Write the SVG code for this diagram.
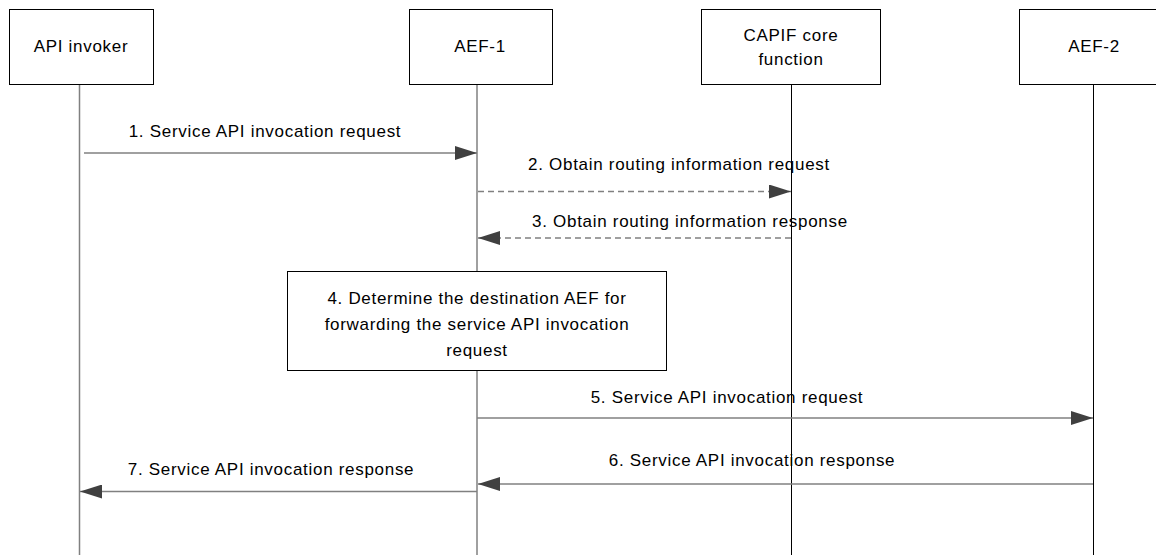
<svg xmlns="http://www.w3.org/2000/svg" width="1156" height="555" viewBox="0 0 1156 555">
<style>
text{font-family:"Liberation Sans",Arial,sans-serif;font-size:17px;letter-spacing:0.7px;fill:#000;text-anchor:middle}
.box{fill:#fff;stroke:#000;stroke-width:1}
.life1{stroke:#808080;stroke-width:1.5;fill:none}
.life2{stroke:#000;stroke-width:1;fill:none}
.msg{stroke:#808080;stroke-width:1.3;fill:none}
.dash{stroke-dasharray:6,4}
</style>
<defs>
<marker id="ah" viewBox="0 0 22 14" refX="22" refY="7" markerWidth="22" markerHeight="14" markerUnits="userSpaceOnUse" orient="auto">
<path d="M0,0 L22,7 L0,14 Z" fill="#404040"/>
</marker>
</defs>
<g id="lifelines">
<line class="life1" x1="79.5" y1="84" x2="79.5" y2="555"/>
<line class="life1" x1="477" y1="84" x2="477" y2="555"/>
<line class="life2" x1="791.5" y1="84" x2="791.5" y2="555"/>
<line class="life2" x1="1093.5" y1="84" x2="1093.5" y2="555"/>
</g>
<g id="node-api-invoker">
<rect class="box" x="9.5" y="9.5" width="144" height="75"/>
<text x="81" y="52">API invoker</text>
</g>
<g id="node-aef1">
<rect class="box" x="409.5" y="9.5" width="143" height="75"/>
<text x="480" y="52">AEF-1</text>
</g>
<g id="node-capif">
<rect class="box" x="701.5" y="9.5" width="179" height="75"/>
<text x="791" y="41">CAPIF core</text>
<text x="791" y="65">function</text>
</g>
<g id="node-aef2">
<rect class="box" x="1019.5" y="9.5" width="148" height="75"/>
<text x="1094" y="52">AEF-2</text>
</g>
<g id="node-step4">
<rect class="box" x="287.5" y="271.5" width="379" height="99"/>
<text x="477" y="304">4. Determine the destination AEF for</text>
<text x="477" y="330">forwarding the service API invocation</text>
<text x="477" y="356">request</text>
</g>
<g id="connectors">
<line class="msg" x1="84" y1="153" x2="477" y2="153" marker-end="url(#ah)"/>
<text x="265" y="137">1. Service API invocation request</text>
<line class="msg dash" x1="478" y1="191.5" x2="791" y2="191.5" marker-end="url(#ah)"/>
<text x="679" y="170">2. Obtain routing information request</text>
<line class="msg dash" x1="791" y1="238" x2="478" y2="238" marker-end="url(#ah)"/>
<text x="690" y="227">3. Obtain routing information response</text>
<line class="msg" x1="477" y1="418" x2="1093" y2="418" marker-end="url(#ah)"/>
<text x="727" y="403">5. Service API invocation request</text>
<line class="msg" x1="1093" y1="484" x2="478" y2="484" marker-end="url(#ah)"/>
<text x="752" y="466">6. Service API invocation response</text>
<line class="msg" x1="477" y1="491.5" x2="80" y2="491.5" marker-end="url(#ah)"/>
<text x="271" y="475">7. Service API invocation response</text>
</g>
</svg>
